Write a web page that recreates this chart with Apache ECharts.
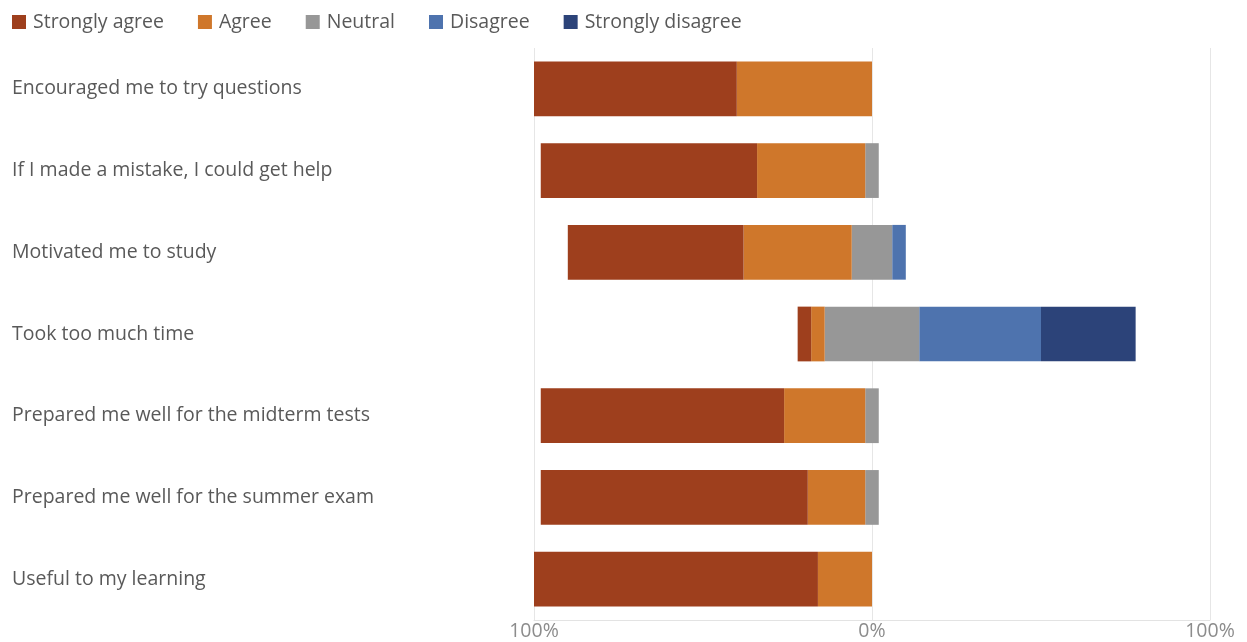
<!DOCTYPE html>
<html>
<head>
<meta charset="utf-8">
<script src="https://cdn.jsdelivr.net/npm/echarts@6/dist/echarts.min.js"></script>
<style>
  html, body { margin: 0; padding: 0; background: #fff; }
  #chart { width: 1247px; height: 642px; }
</style>
</head>
<body>
<div id="chart"></div>
<script>
// Survey statements (top to bottom)
const statements = [
  'Encouraged me to try questions',
  'If I made a mistake, I could get help',
  'Motivated me to study',
  'Took too much time',
  'Prepared me well for the midterm tests',
  'Prepared me well for the summer exam',
  'Useful to my learning'
];

// Response shares in percent
const stronglyAgree    = [60, 64, 52, 4, 72, 79, 84];
const agree            = [40, 32, 32, 4, 24, 17, 16];
const neutral          = [0, 4, 12, 28, 4, 4, 0];
const disagree         = [0, 0, 4, 36, 0, 0, 0];
const stronglyDisagree = [0, 0, 0, 28, 0, 0, 0];

const axisTicks = [-100, 0, 100];

const colors = {
  sa: '#9E3F1D',
  a: '#CF772B',
  n: '#979797',
  d: '#4E73AE',
  sd: '#2C4379'
};

const FONT = '"Open Sans", "Noto Sans", sans-serif';
const FS = 19.5;

// Agreement extends left of zero, disagreement right; neutral is split across zero.
const neg = arr => arr.map(v => v === 0 ? null : -v);
const half = arr => arr.map(v => v === 0 ? null : v / 2);
const pos = arr => arr.map(v => v === 0 ? null : v);

const barCommon = {
  type: 'bar',
  stack: 'likert',
  barWidth: '67%',
  emphasis: { disabled: true }
};

const chart = echarts.init(document.getElementById('chart'));
chart.setOption({
  animation: false,
  textStyle: { fontFamily: FONT },
  legend: {
    left: 7,
    top: 7,
    itemWidth: 14,
    itemHeight: 14,
    itemGap: 34,
    icon: 'rect',
    textStyle: { fontSize: FS, color: '#595959', fontFamily: FONT, padding: [0, 0, 0, 2] },
    data: ['Strongly agree', 'Agree', 'Neutral', 'Disagree', 'Strongly disagree']
  },
  grid: { left: 534, right: 37, top: 48, bottom: 22, containLabel: false },
  xAxis: {
    type: 'value',
    min: axisTicks[0],
    max: axisTicks[2],
    interval: 100,
    axisLine: { show: true, lineStyle: { color: '#e3e3e3' } },
    axisTick: { show: false },
    splitLine: { show: true, lineStyle: { color: '#e6e6e6' } },
    axisLabel: {
      margin: 1,
      fontSize: FS,
      color: '#8c8c8c',
      fontFamily: FONT,
      formatter: v => Math.abs(v) + '%'
    }
  },
  yAxis: {
    type: 'category',
    inverse: true,
    data: statements,
    axisLine: { show: false },
    axisTick: { show: false },
    axisLabel: {
      align: 'left',
      margin: 522,
      fontSize: FS,
      color: '#595959',
      fontFamily: FONT
    }
  },
  series: [
    Object.assign({}, barCommon, { name: 'Neutral', data: neg(half(neutral)), itemStyle: { color: colors.n } }),
    Object.assign({}, barCommon, { name: 'Agree', data: neg(agree), itemStyle: { color: colors.a } }),
    Object.assign({}, barCommon, { name: 'Strongly agree', data: neg(stronglyAgree), itemStyle: { color: colors.sa } }),
    Object.assign({}, barCommon, { name: 'Neutral', data: half(neutral), itemStyle: { color: colors.n } }),
    Object.assign({}, barCommon, { name: 'Disagree', data: pos(disagree), itemStyle: { color: colors.d } }),
    Object.assign({}, barCommon, { name: 'Strongly disagree', data: pos(stronglyDisagree), itemStyle: { color: colors.sd } })
  ]
});
</script>
</body>
</html>
